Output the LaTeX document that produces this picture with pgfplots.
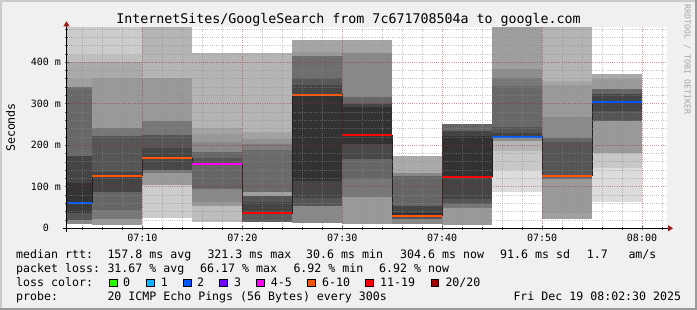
\documentclass[border=0pt]{standalone}
\usepackage{pgfplots}
\pgfplotsset{compat=1.18}
\usepackage{fontspec}
\setmainfont{DejaVu Sans Mono}
\usetikzlibrary{arrows.meta}
\definecolor{bg}{HTML}{F0F0F0}
\definecolor{shadea}{HTML}{CBCBCB}
\definecolor{shadeb}{HTML}{999999}
\definecolor{arrowred}{HTML}{9B1B1B}
\definecolor{mgridc}{HTML}{A02828}
\definecolor{gridc}{HTML}{8C8C8C}
\definecolor{lzero}{HTML}{26FF00}
\definecolor{lone}{HTML}{00B8FF}
\definecolor{ltwo}{HTML}{0059FF}
\definecolor{lthree}{HTML}{7000FF}
\definecolor{lfour}{HTML}{FF00FF}
\definecolor{lsix}{HTML}{FF5500}
\definecolor{leleven}{HTML}{FF0000}
\definecolor{ltwenty}{HTML}{A10000}
\newcommand{\band}[5]{\addplot[draw=none, fill={rgb,255:red,#5;green,#5;blue,#5}] coordinates {(#1,#3) (#2,#3) (#2,#4) (#1,#4)} -- cycle;}
\newcommand{\med}[4]{\addplot[#4, line width=2pt] coordinates {(#1,#3) (#2,#3)};}
\newcommand{\sq}[1]{{\setlength{\fboxsep}{0pt}\setlength{\fboxrule}{0.8pt}\fcolorbox{black}{#1}{\rule{0pt}{6.6pt}\rule{6.6pt}{0pt}}}}
\newcommand{\lf}{\fontsize{11.6}{14}\selectfont}
\begin{document}
\begin{tikzpicture}[x=1pt,y=1pt]
\fill[bg] (0,0) rectangle (697,310);
\fill[shadea] (0,0) rectangle (2,310);
\fill[shadea] (0,308) rectangle (697,310);
\fill[shadeb] (695,0) rectangle (697,310);
\fill[shadeb] (0,0) rectangle (697,2);
\begin{axis}[
  at={(66.5pt,81.7pt)}, anchor=south west,
  scale only axis, width=600.5pt, height=201pt,
  xmin=2.4, xmax=62.5, ymin=0, ymax=484,
  axis background/.style={fill=white},
  axis on top, no markers,
  axis x line=bottom, axis y line=left,
  x axis line style={black, line width=0.8pt, -{Triangle[length=5pt,width=6pt,color=arrowred]}, shorten >=-6pt, shorten <=-4pt},
  y axis line style={black, line width=0.8pt, -{Triangle[length=5pt,width=6pt,color=arrowred]}, shorten >=-6pt, shorten <=-4pt},
  xtick={10,20,30,40,50,60},
  xticklabels={07:10,07:20,07:30,07:40,07:50,08:00},
  minor xtick={4,6,8,12,14,16,18,22,24,26,28,32,34,36,38,42,44,46,48,52,54,56,58,62},
  ytick={0,100,200,300,400},
  yticklabels={0\hphantom{\ m},100 m,200 m,300 m,400 m},
  minor ytick={20,40,60,80,120,140,160,180,220,240,260,280,320,340,360,380,420,440,460,480},
  grid=both,
  major grid style={color=mgridc, opacity=0.5, line width=0.7pt, dash pattern=on 1pt off 1.2pt},
  minor grid style={color=gridc, opacity=0.5, line width=0.7pt, dash pattern=on 1pt off 1.2pt},
  tick style={color=black!70, line width=0.6pt},
  major tick length=4pt, minor tick length=3pt, tick align=center,
  tick label style={font=\fontsize{10}{12}\selectfont},
  /pgf/number format/assume math mode=true,
]
% bin 1
\band{2.4}{5}{417}{484}{204}
\band{2.4}{5}{401}{417}{190}
\band{2.4}{5}{359}{401}{170}
\band{2.4}{5}{341}{359}{160}
\band{2.4}{5}{332}{341}{110}
\band{2.4}{5}{174}{332}{104}
\band{2.4}{5}{108}{174}{68}
\band{2.4}{5}{62}{108}{51}
\band{2.4}{5}{36}{62}{58}
\band{2.4}{5}{20}{36}{85}
\band{2.4}{5}{10}{20}{136}
% bin 2
\band{5}{10}{418}{484}{204}
\band{5}{10}{401}{418}{190}
\band{5}{10}{362}{401}{170}
\band{5}{10}{242}{362}{153}
\band{5}{10}{222}{242}{119}
\band{5}{10}{136}{222}{85}
\band{5}{10}{88}{136}{68}
\band{5}{10}{44}{88}{102}
\band{5}{10}{22}{44}{119}
\band{5}{10}{8}{22}{153}
% bin 3
\band{10}{15}{363}{484}{181}
\band{10}{15}{258}{363}{153}
\band{10}{15}{224}{258}{119}
\band{10}{15}{193}{224}{85}
\band{10}{15}{168}{193}{68}
\band{10}{15}{140}{168}{72}
\band{10}{15}{134}{140}{119}
\band{10}{15}{105}{134}{153}
\band{10}{15}{24}{105}{204}
% bin 4
\band{15}{20}{242}{421}{180}
\band{15}{20}{227}{242}{163}
\band{15}{20}{208}{227}{153}
\band{15}{20}{184}{208}{136}
\band{15}{20}{170}{184}{102}
\band{15}{20}{154}{170}{85}
\band{15}{20}{94}{154}{102}
\band{15}{20}{63}{94}{136}
\band{15}{20}{54}{63}{153}
\band{15}{20}{14}{54}{189}
% bin 5
\band{20}{25}{232}{421}{181}
\band{20}{25}{215}{232}{163}
\band{20}{25}{203}{215}{145}
\band{20}{25}{189}{203}{125}
\band{20}{25}{87}{189}{106}
\band{20}{25}{78}{87}{160}
\band{20}{25}{64}{78}{85}
\band{20}{25}{34}{64}{68}
\band{20}{25}{14}{34}{90}
% bin 6
\band{25}{30}{425}{454}{165}
\band{25}{30}{415}{425}{153}
\band{25}{30}{362}{415}{110}
\band{25}{30}{345}{362}{88}
\band{25}{30}{322}{345}{68}
\band{25}{30}{113}{322}{50}
\band{25}{30}{73}{113}{68}
\band{25}{30}{53}{73}{85}
\band{25}{30}{13}{53}{136}
% bin 7
\band{30}{35}{423}{454}{165}
\band{30}{35}{317}{423}{136}
\band{30}{35}{299}{317}{102}
\band{30}{35}{293}{299}{68}
\band{30}{35}{202}{293}{50}
\band{30}{35}{166}{202}{72}
\band{30}{35}{118}{166}{102}
\band{30}{35}{76}{118}{119}
\band{30}{35}{10}{76}{153}
% bin 8
\band{35}{40}{134}{174}{170}
\band{35}{40}{126}{134}{136}
\band{35}{40}{54}{126}{102}
\band{35}{40}{38}{54}{68}
\band{35}{40}{30}{38}{50}
\band{35}{40}{22}{30}{85}
\band{35}{40}{10}{22}{136}
% bin 9
\band{40}{45}{234}{251}{102}
\band{40}{45}{222}{234}{68}
\band{40}{45}{124}{222}{50}
\band{40}{45}{70}{124}{68}
\band{40}{45}{58}{70}{85}
\band{40}{45}{50}{58}{119}
\band{40}{45}{8}{50}{153}
% bin 10
\band{45}{50}{383}{484}{158}
\band{45}{50}{361}{383}{140}
\band{45}{50}{342}{361}{120}
\band{45}{50}{245}{342}{104}
\band{45}{50}{229}{245}{85}
\band{45}{50}{220}{229}{68}
\band{45}{50}{210}{220}{140}
\band{45}{50}{186}{210}{180}
\band{45}{50}{140}{186}{200}
\band{45}{50}{87}{140}{220}
% bin 11
\band{50}{55}{354}{484}{180}
\band{50}{55}{344}{354}{165}
\band{50}{55}{269}{344}{153}
\band{50}{55}{218}{269}{138}
\band{50}{55}{208}{218}{102}
\band{50}{55}{127}{208}{85}
\band{50}{55}{119}{127}{102}
\band{50}{55}{37}{119}{153}
\band{50}{55}{22}{37}{160}
% bin 12
\band{55}{60}{359}{371}{170}
\band{55}{60}{335}{359}{153}
\band{55}{60}{323}{335}{102}
\band{55}{60}{304}{323}{68}
\band{55}{60}{283}{304}{68}
\band{55}{60}{259}{283}{85}
\band{55}{60}{181}{259}{153}
\band{55}{60}{146}{181}{200}
\band{55}{60}{63}{146}{220}
% median step line
\addplot[const plot, draw={rgb,255:red,32;green,32;blue,32}, line width=1pt] coordinates {(2.4,61.7) (5,126.7) (10,168.2) (15,153.7) (20,35.7) (25,321.3) (30,224.1) (35,30.6) (40,124.3) (45,220.7) (50,126.7) (55,304.6) (60,304.6)};
\med{2.4}{5}{61.7}{ltwo}
\med{5}{10}{126.7}{lsix}
\med{10}{15}{168.2}{lsix}
\med{15}{20}{153.7}{lfour}
\med{20}{25}{35.7}{leleven}
\med{25}{30}{321.3}{lsix}
\med{30}{35}{224.1}{leleven}
\med{35}{40}{30.6}{lsix}
\med{40}{45}{124.3}{leleven}
\med{45}{50}{220.7}{ltwo}
\med{50}{55}{126.7}{lsix}
\med{55}{60}{304.6}{ltwo}
\end{axis}
% title and labels
\node[anchor=base, inner sep=0] at (348.5,286) {\fontsize{13.3}{16}\selectfont InternetSites/GoogleSearch from 7c671708504a to google.com};
\node[rotate=90, inner sep=0] at (10.5,182.5) {\lf Seconds};
\node[rotate=-90, anchor=west, inner sep=0, text=black!35] at (687.3,306) {\fontsize{8.3}{10}\selectfont RRDTOOL / TOBI OETIKER};
% legend rows
\node[anchor=base west, inner sep=0] at (16,51.7) {\lf median rtt:};
\node[anchor=base west, inner sep=0] at (107.3,51.7) {\lf 157.8 ms avg};
\node[anchor=base west, inner sep=0] at (207.3,51.7) {\lf 321.3 ms max};
\node[anchor=base west, inner sep=0] at (306,51.7) {\lf 30.6 ms min};
\node[anchor=base west, inner sep=0] at (400,51.7) {\lf 304.6 ms now};
\node[anchor=base west, inner sep=0] at (500,51.7) {\lf 91.6 ms sd};
\node[anchor=base west, inner sep=0] at (586.7,51.7) {\lf 1.7};
\node[anchor=base west, inner sep=0] at (628.3,51.7) {\lf am/s};
\node[anchor=base west, inner sep=0] at (16,37.7) {\lf packet loss:};
\node[anchor=base west, inner sep=0] at (107.3,37.7) {\lf 31.67 \% avg};
\node[anchor=base west, inner sep=0] at (200,37.7) {\lf 66.17 \% max};
\node[anchor=base west, inner sep=0] at (293.3,37.7) {\lf 6.92 \% min};
\node[anchor=base west, inner sep=0] at (379,37.7) {\lf 6.92 \% now};
\node[anchor=base west, inner sep=0] at (16,23.7) {\lf loss color:};
\node[anchor=base west, inner sep=0] at (109,23.7) {\sq{lzero}};
\node[anchor=base west, inner sep=0] at (123,23.7) {\lf 0};
\node[anchor=base west, inner sep=0] at (146,23.7) {\sq{lone}};
\node[anchor=base west, inner sep=0] at (160.7,23.7) {\lf 1};
\node[anchor=base west, inner sep=0] at (183,23.7) {\sq{ltwo}};
\node[anchor=base west, inner sep=0] at (197,23.7) {\lf 2};
\node[anchor=base west, inner sep=0] at (219,23.7) {\sq{lthree}};
\node[anchor=base west, inner sep=0] at (234,23.7) {\lf 3};
\node[anchor=base west, inner sep=0] at (256,23.7) {\sq{lfour}};
\node[anchor=base west, inner sep=0] at (270.7,23.7) {\lf 4-5};
\node[anchor=base west, inner sep=0] at (307,23.7) {\sq{lsix}};
\node[anchor=base west, inner sep=0] at (322,23.7) {\lf 6-10};
\node[anchor=base west, inner sep=0] at (365,23.7) {\sq{leleven}};
\node[anchor=base west, inner sep=0] at (380,23.7) {\lf 11-19};
\node[anchor=base west, inner sep=0] at (430.7,23.7) {\sq{ltwenty}};
\node[anchor=base west, inner sep=0] at (445.3,23.7) {\lf 20/20};
\node[anchor=base west, inner sep=0] at (16,9.7) {\lf probe:};
\node[anchor=base west, inner sep=0] at (107.3,9.7) {\lf 20 ICMP Echo Pings (56 Bytes) every 300s};
\node[anchor=base west, inner sep=0] at (513.3,9.7) {\lf Fri Dec 19 08:02:30 2025};
\pgfresetboundingbox
\useasboundingbox (0,0) rectangle (697,310);
\end{tikzpicture}
\end{document}
